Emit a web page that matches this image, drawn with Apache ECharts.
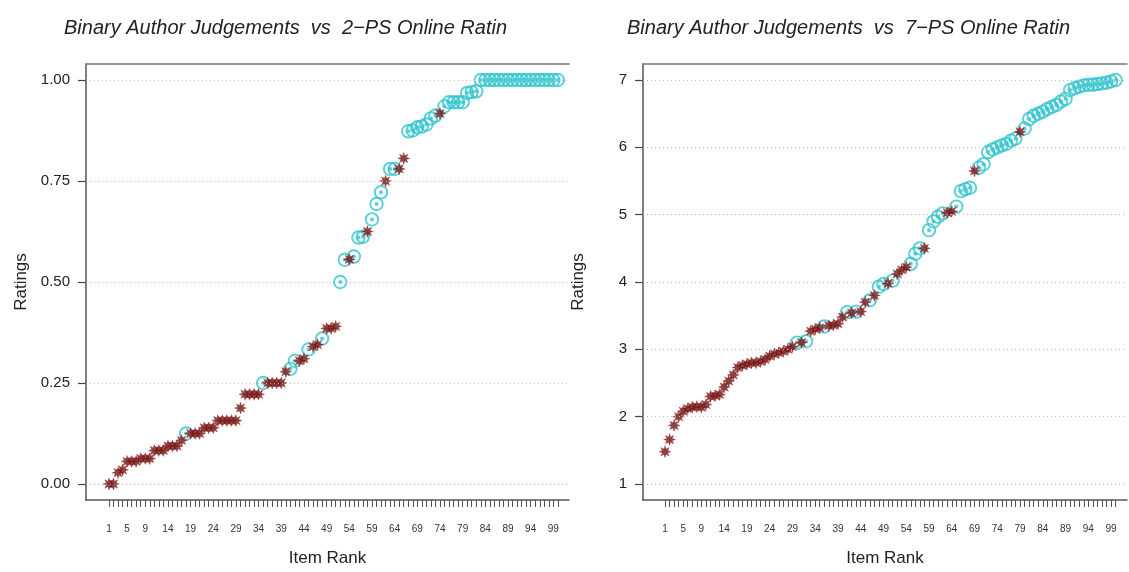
<!DOCTYPE html>
<html><head><meta charset="utf-8">
<script src="https://cdn.jsdelivr.net/npm/echarts@6/dist/echarts.min.js"></script>
<style>html,body{margin:0;padding:0;background:#fff}#c{width:1129px;height:572px}</style>
</head><body><div id="c"></div>
<script>
// Item ranks 1..100 (categories)
const itemRanks = [];
for (let i = 1; i <= 100; i++) itemRanks.push(i);
const xTickLabels = [1,5,9,14,19,24,29,34,39,44,49,54,59,64,69,74,79,84,89,94,99];

// Left panel: 2-PS online ratings (sorted), binary author judgement (0 = star, 1 = circle)
const ratings2PS = [
  0, 0, 0.028, 0.035, 0.056, 0.056, 0.056, 0.063, 0.063, 0.063,
  0.083, 0.083, 0.083, 0.094, 0.094, 0.094, 0.108, 0.125, 0.125, 0.125,
  0.125, 0.139, 0.139, 0.139, 0.157, 0.157, 0.157, 0.157, 0.157, 0.188,
  0.222, 0.222, 0.222, 0.222, 0.25, 0.25, 0.25, 0.25, 0.25, 0.278,
  0.285, 0.305, 0.305, 0.31, 0.333, 0.34, 0.345, 0.36, 0.385, 0.385,
  0.39, 0.50, 0.555, 0.556, 0.563, 0.61, 0.612, 0.625, 0.655, 0.693,
  0.722, 0.75, 0.78, 0.78, 0.78, 0.806, 0.873, 0.875, 0.883, 0.885,
  0.89, 0.905, 0.912, 0.917, 0.935, 0.945, 0.945, 0.945, 0.945, 0.968,
  0.97, 0.972, 1, 1, 1, 1, 1, 1, 1, 1,
  1, 1, 1, 1, 1, 1, 1, 1, 1, 1
];
const judgement2PS = [
  0,0,0,0,0,0,0,0,0,0,
  0,0,0,0,0,0,0,1,0,0,
  0,0,0,0,0,0,0,0,0,0,
  0,0,0,0,1,0,0,0,0,0,
  1,1,0,0,1,0,0,1,0,0,
  0,1,1,0,1,1,1,0,1,1,
  1,0,1,1,0,0,1,1,1,1,
  1,1,1,0,1,1,1,1,1,1,
  1,1,1,1,1,1,1,1,1,1,
  1,1,1,1,1,1,1,1,1,1
];

// Right panel: 7-PS online ratings (sorted), binary author judgement
const ratings7PS = [
  1.48, 1.66, 1.87, 2.0, 2.08, 2.12, 2.14, 2.15, 2.14, 2.18,
  2.3, 2.31, 2.33, 2.44, 2.53, 2.62, 2.73, 2.76, 2.78, 2.8,
  2.8, 2.82, 2.85, 2.9, 2.93, 2.95, 2.97, 3.0, 3.04, 3.1,
  3.1, 3.12, 3.27, 3.3, 3.32, 3.34, 3.35, 3.36, 3.38, 3.48,
  3.55, 3.54, 3.56, 3.56, 3.7, 3.73, 3.8, 3.93, 3.97, 3.98,
  4.02, 4.12, 4.18, 4.22, 4.27, 4.42, 4.5, 4.5, 4.77, 4.9,
  4.97, 5.02, 5.03, 5.05, 5.12, 5.35, 5.38, 5.4, 5.65, 5.7,
  5.75, 5.93, 5.97, 6.0, 6.03, 6.05, 6.1, 6.13, 6.23, 6.28,
  6.42, 6.47, 6.5, 6.53, 6.57, 6.6, 6.63, 6.68, 6.72, 6.85,
  6.88, 6.9, 6.92, 6.93, 6.93, 6.94, 6.95, 6.96, 6.98, 7.0
];
const judgement7PS = [
  0,0,0,0,0,0,0,0,0,0,
  0,0,0,0,0,0,0,0,0,0,
  0,0,0,0,0,0,0,0,0,1,
  0,1,0,0,0,1,0,0,0,0,
  1,0,1,0,0,1,0,1,1,0,
  1,0,0,0,1,1,1,0,1,1,
  1,1,0,0,1,1,1,1,0,1,
  1,1,1,1,1,1,1,1,0,1,
  1,1,1,1,1,1,1,1,1,1,
  1,1,1,1,1,1,1,1,1,1
];

const yTicks2PS = [0, 0.25, 0.5, 0.75, 1];
const yTicks7PS = [1, 2, 3, 4, 5, 6, 7];
const titles = [
  'Binary Author Judgements  vs  2\u2212PS Online Ratin',
  'Binary Author Judgements  vs  7\u2212PS Online Ratin'
];

// 8-pointed asterisk-like star symbol
function starPath() {
  let d = '';
  for (let k = 0; k < 16; k++) {
    const r = (k % 2 === 0) ? 50 : 24;
    const a = k * Math.PI / 8 - Math.PI / 2;
    const x = (50 + r * Math.cos(a)).toFixed(2), y = (50 + r * Math.sin(a)).toFixed(2);
    d += (k === 0 ? 'M' : 'L') + x + ' ' + y + ' ';
  }
  return 'path://' + d + 'Z';
}
const STAR = starPath();
const FONT = 'Liberation Sans';
const CYAN = '#30c4cd';
const MAROON = '#6e1414';

const chart = echarts.init(document.getElementById('c'), null, {renderer: 'canvas'});

const panels = [
  {ratings: ratings2PS, judge: judgement2PS, ticks: yTicks2PS, fmt: v => v.toFixed(2),
   grid: {left: 86, right: 560, top: 64, bottom: 72}, xmin: -4.07, xmax: 102.45,
   ymin: -0.0396, ymax: 1.0396, titleLeft: 59},
  {ratings: ratings7PS, judge: judgement7PS, ticks: yTicks7PS, fmt: v => String(v),
   grid: {left: 643, right: 2, top: 64, bottom: 72}, xmin: -3.83, xmax: 102.5,
   ymin: 0.762, ymax: 7.238, titleLeft: 622}
];

const option = {
  backgroundColor: '#fff',
  animation: false,
  textStyle: {fontFamily: FONT},
  title: [], grid: [], xAxis: [], yAxis: [], series: []
};

panels.forEach((p, gi) => {
  option.title.push({
    text: titles[gi], left: p.titleLeft, top: 13,
    textStyle: {fontFamily: FONT, fontStyle: 'italic', fontWeight: 'normal', fontSize: 20, color: '#222'}
  });
  option.grid.push(p.grid);
  const lineStyle = {color: '#555', width: 1.5};
  option.xAxis.push({
    gridIndex: gi, type: 'value', min: p.xmin, max: p.xmax, position: 'bottom',
    axisLine: {show: true, onZero: false, lineStyle: lineStyle},
    axisTick: {show: true, customValues: itemRanks, length: 7, lineStyle: {color: '#555', width: 1}},
    axisLabel: {show: true, customValues: xTickLabels, fontSize: 10, color: '#333', margin: 24, fontFamily: FONT},
    splitLine: {show: false},
    name: 'Item Rank', nameLocation: 'middle', nameGap: 50,
    nameTextStyle: {fontSize: 17, color: '#222', fontFamily: FONT}
  });
  option.xAxis.push({
    gridIndex: gi, type: 'value', min: p.xmin, max: p.xmax, position: 'top',
    axisLine: {show: true, onZero: false, lineStyle: {color: '#777', width: 1.5}},
    axisTick: {show: false}, axisLabel: {show: false}, splitLine: {show: false}
  });
  option.yAxis.push({
    gridIndex: gi, type: 'value', min: p.ymin, max: p.ymax,
    axisLine: {show: true, onZero: false, lineStyle: lineStyle},
    axisTick: {show: true, customValues: p.ticks, length: 8, lineStyle: {color: '#444', width: 1.2}},
    axisLabel: {show: true, customValues: p.ticks, formatter: p.fmt, fontSize: 15, color: '#222', margin: 16, fontFamily: FONT},
    splitLine: {show: false},
    name: 'Ratings', nameLocation: 'middle', nameGap: 56,
    nameTextStyle: {fontSize: 17, color: '#222', fontFamily: FONT}
  });
  const circles = [], stars = [];
  p.ratings.forEach((v, i) => {
    (p.judge[i] === 1 ? circles : stars).push([itemRanks[i], v]);
  });
  const xi = gi * 2;
  option.series.push({
    type: 'scatter', xAxisIndex: xi, yAxisIndex: gi, data: [], silent: true,
    markLine: {
      silent: true, symbol: ['none', 'none'], label: {show: false},
      lineStyle: {type: [1, 3], color: '#bbb', width: 1},
      data: p.ticks.map(t => ({yAxis: t}))
    }
  });
  option.series.push({
    type: 'scatter', xAxisIndex: xi, yAxisIndex: gi, data: circles,
    symbol: 'circle', symbolSize: 12.5,
    itemStyle: {color: 'rgba(0,0,0,0)', borderColor: CYAN, borderWidth: 1.9}
  });
  option.series.push({
    type: 'scatter', xAxisIndex: xi, yAxisIndex: gi, data: circles,
    symbol: 'circle', symbolSize: 4, itemStyle: {color: CYAN}
  });
  option.series.push({
    type: 'scatter', xAxisIndex: xi, yAxisIndex: gi, data: stars,
    symbol: STAR, symbolSize: 12,
    itemStyle: {color: MAROON, borderColor: 'rgba(160,40,40,0.5)', borderWidth: 0.8}
  });
});

chart.setOption(option);
</script>
</body></html>
